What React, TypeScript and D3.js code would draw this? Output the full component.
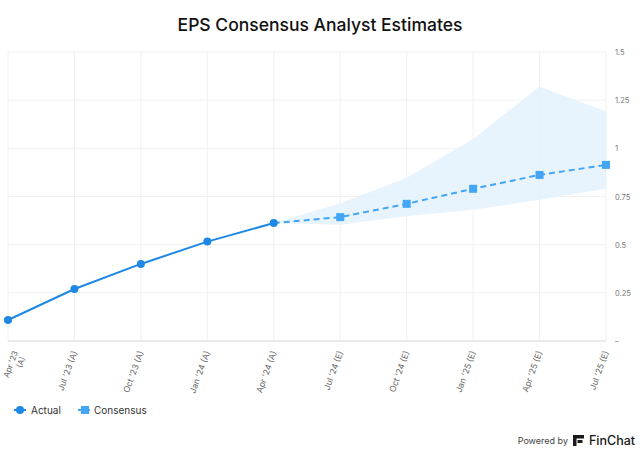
import React from 'react';
import * as d3 from 'd3';

const periods = [
  "Apr '23 (A)",
  "Jul '23 (A)",
  "Oct '23 (A)",
  "Jan '24 (A)",
  "Apr '24 (A)",
  "Jul '24 (E)",
  "Oct '24 (E)",
  "Jan '25 (E)",
  "Apr '25 (E)",
  "Jul '25 (E)",
];
const actual = [0.109, 0.27, 0.4, 0.516, 0.612];
const consensus = [0.612, 0.643, 0.712, 0.79, 0.862, 0.914];
const bandHigh = [0.612, 0.715, 0.847, 1.049, 1.321, 1.191];
const bandLow = [0.612, 0.604, 0.647, 0.681, 0.733, 0.79];
const yTicks = [0, 0.25, 0.5, 0.75, 1, 1.25, 1.5];

const W = 640;
const H = 454;
const margin = { top: 52, right: 34, bottom: 113, left: 8 };

const ACTUAL_COLOR = '#1e88e5';
const CONS_COLOR = '#42a5f5';
const BAND_COLOR = '#e3f2fd';
const FONT = 'Inter, "Noto Sans", sans-serif';

const App: React.FC = () => {
  const x = d3
    .scalePoint<string>()
    .domain(periods)
    .range([margin.left, W - margin.right]);
  const y = d3
    .scaleLinear()
    .domain([0, 1.5])
    .range([H - margin.bottom, margin.top]);

  const actualPts = actual.map((v, i) => ({ p: periods[i], v }));
  const consPts = consensus.map((v, i) => ({ p: periods[i + 4], v }));
  const bandPts = bandHigh.map((h, i) => ({ p: periods[i + 4], h, l: bandLow[i] }));

  const line = d3
    .line<{ p: string; v: number }>()
    .x((d) => x(d.p)!)
    .y((d) => y(d.v));
  const area = d3
    .area<{ p: string; h: number; l: number }>()
    .x((d) => x(d.p)!)
    .y0((d) => y(d.l))
    .y1((d) => y(d.h));

  const x0 = margin.left;
  const x1 = W - margin.right;
  const y0 = H - margin.bottom;

  return (
    <svg
      width={W}
      height={H}
      style={{ position: 'absolute', left: 0, top: 0, background: '#fff' }}
      fontFamily={FONT}
    >
      <text
        x={W / 2}
        y={31}
        textAnchor="middle"
        fontSize={17.5}
        fontWeight={500}
        fill="#111"
      >
        EPS Consensus Analyst Estimates
      </text>

      {/* grid */}
      {yTicks.map((t) => (
        <line key={`gy${t}`} x1={x0} x2={x1} y1={y(t)} y2={y(t)} stroke="#f1f1f1" />
      ))}
      {periods.map((p) => (
        <line key={`gx${p}`} x1={x(p)} x2={x(p)} y1={margin.top} y2={y0} stroke="#f1f1f1" />
      ))}
      <line x1={x0} x2={x1} y1={y0} y2={y0} stroke="#ddd" />

      {/* right axis labels */}
      {yTicks.map((t) => (
        <text
          key={`yl${t}`}
          x={x1 + 9}
          y={y(t) + 3}
          fontSize={7.5}
          fill="#777"
        >
          {t === 0 ? '–' : String(t)}
        </text>
      ))}

      {/* x labels */}
      {periods.map((p, i) => {
        const lx = x(p)! + 3;
        const ly = y0 + 11;
        if (i === 0) {
          return (
            <text
              key={`xl${p}`}
              transform={`translate(${lx + 7},${ly}) rotate(-70)`}
              textAnchor="end"
              fontSize={8}
              fill="#666"
            >
              <tspan x={0} dy={0}>Apr '23</tspan>
              <tspan x={-3} dy={9}>(A)</tspan>
            </text>
          );
        }
        return (
          <text
            key={`xl${p}`}
            transform={`translate(${lx},${ly}) rotate(-70)`}
            textAnchor="end"
            fontSize={8.5}
            fill="#666"
          >
            {p}
          </text>
        );
      })}

      {/* estimate band */}
      <path d={area(bandPts) ?? ''} fill={BAND_COLOR} opacity={0.85} />

      {/* consensus */}
      <path
        d={line(consPts) ?? ''}
        fill="none"
        stroke={CONS_COLOR}
        strokeWidth={2}
        strokeDasharray="6,4"
      />
      {consPts.slice(1).map((d) => (
        <rect
          key={`cs${d.p}`}
          x={x(d.p)! - 4}
          y={y(d.v) - 4}
          width={8}
          height={8}
          fill={CONS_COLOR}
        />
      ))}

      {/* actual */}
      <path d={line(actualPts) ?? ''} fill="none" stroke={ACTUAL_COLOR} strokeWidth={2} />
      {actualPts.map((d) => (
        <circle key={`ac${d.p}`} cx={x(d.p)} cy={y(d.v)} r={4} fill={ACTUAL_COLOR} />
      ))}

      {/* legend */}
      <g transform="translate(14,410)">
        <line x1={0} x2={12} y1={0} y2={0} stroke={ACTUAL_COLOR} strokeWidth={2} />
        <circle cx={6} cy={0} r={4} fill={ACTUAL_COLOR} />
        <text x={17} y={4} fontSize={10} fill="#333">Actual</text>
        <line x1={64} x2={76} y1={0} y2={0} stroke={CONS_COLOR} strokeWidth={2} strokeDasharray="5,2" />
        <rect x={67} y={-4} width={8} height={8} fill={CONS_COLOR} />
        <text x={80} y={4} fontSize={10} fill="#333">Consensus</text>
      </g>

      {/* footer */}
      <text x={568} y={444} textAnchor="end" fontSize={9} fill="#444">Powered by</text>
      <g transform="translate(573,435)" fill="#1a1a1a">
        <path d="M0,0 L11,0 L11,3.5 L3.5,3.5 L3.5,11 L0,11 Z" />
        <path d="M4.5,5 L9.5,5 L9.5,8 L4.5,8 Z" />
      </g>
      <text x={589} y={445} fontSize={12.5} fontWeight={500} fill="#1a1a1a">FinChat</text>
    </svg>
  );
};

export default App;
